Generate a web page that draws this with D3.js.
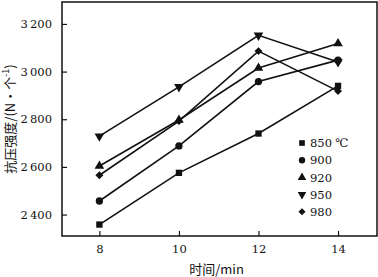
<!DOCTYPE html>
<html>
<head>
<meta charset="utf-8">
<script src="https://cdn.jsdelivr.net/npm/d3@7"></script>
<style>
  html, body { margin: 0; padding: 0; background: #fff; }
  svg { display: block; }
  .serif { font-family: "DejaVu Serif", serif; }
</style>
</head>
<body>
<div id="chart"></div>
<script>
// Compressive strength vs time, one line per temperature

const times = [8, 10, 12, 14];
const xTicks = [8, 10, 12, 14];
const yTicks = [2400, 2600, 2800, 3000, 3200];

const s850 = [2358, 2575, 2740, 2940];
const s900 = [2457, 2688, 2958, 3048];
const s920 = [2604, 2797, 3015, 3118];
const s950 = [2729, 2936, 3152, 3040];
const s980 = [2565, 2792, 3086, 2918];

const SERIES = [
  { label: "850 \u2103", values: s850, symbol: d3.symbolSquare },
  { label: "900",        values: s900, symbol: d3.symbolCircle },
  { label: "920",        values: s920, symbol: d3.symbolTriangle },
  { label: "950",        values: s950, symbol: d3.symbolTriangle, flip: true },
  { label: "980",        values: s980, symbol: d3.symbolDiamond2 || d3.symbolDiamond }
];

const W = 378, H = 277;
const m = { top: 2, right: 1, bottom: 41, left: 62 };
const iw = W - m.left - m.right;
const ih = H - m.top - m.bottom;

const CJK = "'Noto Sans CJK SC', 'Noto Sans', sans-serif";

const x = d3.scaleLinear().domain([7.06, 14.98]).range([0, iw]);
const y = d3.scaleLinear().domain([2310, 3292]).range([ih, 0]);

const svg = d3.select("#chart").append("svg")
  .attr("width", W).attr("height", H);

const g = svg.append("g").attr("transform", `translate(${m.left},${m.top})`);

// Axes (ticks point inward)
const xAxisG = g.append("g")
  .attr("transform", `translate(0,${ih})`)
  .call(d3.axisBottom(x).tickValues(xTicks).tickSize(-5).tickPadding(9).tickSizeOuter(0));
const yAxisG = g.append("g")
  .call(d3.axisLeft(y).tickValues(yTicks).tickSize(-5).tickPadding(10).tickSizeOuter(0)
    .tickFormat(d => d3.format(",")(d).replace(",", "\u2009")));

[xAxisG, yAxisG].forEach(a => {
  a.attr("font-family", null);
  a.select(".domain").remove();
  a.selectAll(".tick line").attr("stroke", "#111").attr("stroke-width", 1.2);
  a.selectAll("text")
    .attr("class", "serif")
    .attr("fill", "#111")
    .attr("font-size", "11.5px");
});

// Frame
g.append("rect")
  .attr("x", 0).attr("y", 0)
  .attr("width", iw).attr("height", ih)
  .attr("fill", "none")
  .attr("stroke", "#111")
  .attr("stroke-width", 1.5);

// Lines + markers
const lineFn = d3.line()
  .x((d, i) => x(times[i]))
  .y(d => y(d));

SERIES.forEach(s => {
  g.append("path")
    .datum(s.values)
    .attr("d", lineFn)
    .attr("fill", "none")
    .attr("stroke", "#111")
    .attr("stroke-width", 1.6);

  g.selectAll(null)
    .data(s.values)
    .join("path")
      .attr("d", d3.symbol().type(s.symbol).size(s.symbol === d3.symbolCircle ? 42 : 40))
      .attr("transform", (d, i) => `translate(${x(times[i])},${y(d)})${s.flip ? " rotate(180)" : ""}`)
      .attr("fill", "#111");
});

// Legend
const legendG = g.append("g").attr("transform", `translate(${302 - m.left},${143 - m.top})`);
SERIES.forEach((s, i) => {
  const ly = i * 17.2;
  legendG.append("path")
    .attr("d", d3.symbol().type(s.symbol).size(32))
    .attr("transform", `translate(0,${ly})${s.flip ? " rotate(180)" : ""}`)
    .attr("fill", "#111");
  legendG.append("text")
    .attr("class", "serif")
    .attr("x", 8)
    .attr("y", ly)
    .attr("dy", "0.36em")
    .attr("fill", "#111")
    .attr("font-size", "11.5px")
    .text(s.label);
});

// Axis titles
svg.append("text")
  .attr("x", m.left + iw / 2 - 3)
  .attr("y", 274)
  .attr("text-anchor", "middle")
  .attr("fill", "#111")
  .attr("font-size", "13px")
  .attr("font-family", CJK)
  .text("时间/min");

svg.append("text")
  .attr("transform", `translate(15,${m.top + 117}) rotate(-90)`)
  .attr("text-anchor", "middle")
  .attr("fill", "#111")
  .attr("font-size", "13px")
  .attr("font-family", CJK)
  .html("抗压强度/(N·个<tspan baseline-shift='super' font-size='9px'>-1</tspan>)");
</script>
</body>
</html>
